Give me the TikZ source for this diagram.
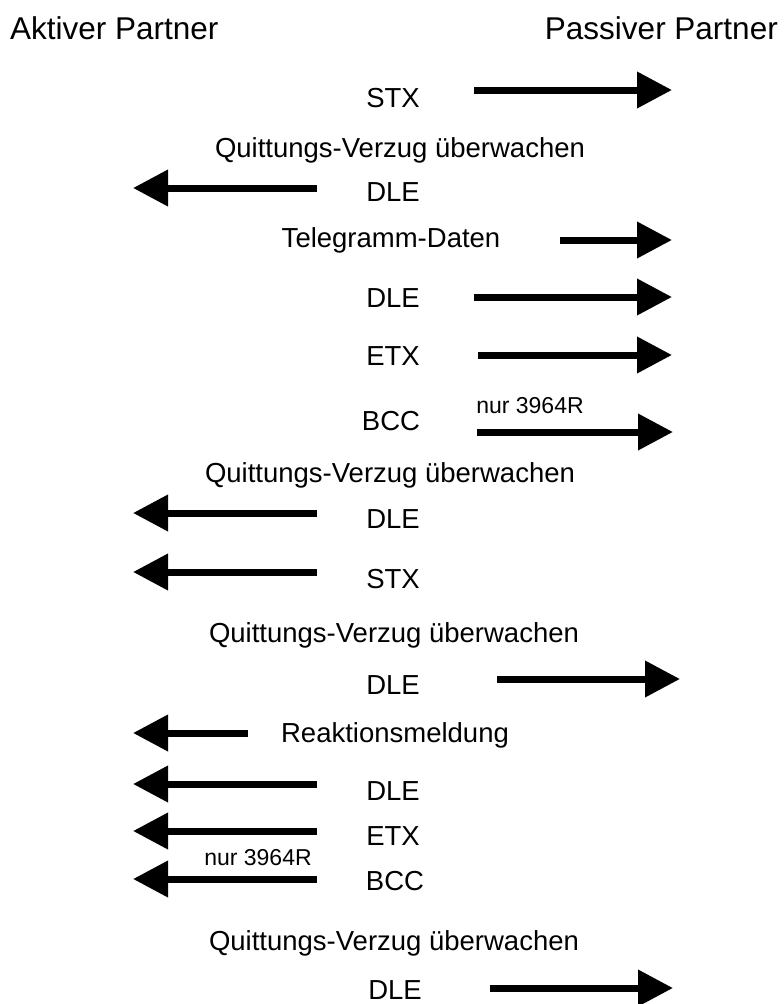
\documentclass[tikz,border=0pt]{standalone}
\usepackage{fontspec}
\setmainfont{Liberation Sans}
\usetikzlibrary{arrows.meta}
\begin{document}
\begin{tikzpicture}[x=1pt,y=-1pt,
  lbl/.style={inner sep=0pt, anchor=base, font=\fontsize{27.5}{33}\selectfont},
  hdrl/.style={inner sep=0pt, anchor=base west, font=\fontsize{31.5}{38}\selectfont},
  hdrr/.style={inner sep=0pt, anchor=base east, font=\fontsize{31.5}{38}\selectfont},
  note/.style={inner sep=0pt, anchor=base, font=\fontsize{23}{27}\selectfont},
  msg/.style={line width=7pt, -{Triangle[length=35pt,width=35pt]}}]
\useasboundingbox (0,0) rectangle (784,1004);
% headers
\node[hdrl] (akt) at (10,39) {Aktiver Partner};
\node[hdrr] (pas) at (778,39) {Passiver Partner};
% 1 STX ->
\node[lbl] (t1) at (393,107) {STX};
\coordinate (a1s) at (474,90); \coordinate (a1e) at (672,90);
\draw[msg] (a1s) -- (a1e);
% Q1
\node[lbl] (q1) at (400,157) {Quittungs-Verzug überwachen};
% DLE <-
\node[lbl] (t2) at (393,201) {DLE};
\coordinate (a2s) at (317,188); \coordinate (a2e) at (133,188);
\draw[msg] (a2s) -- (a2e);
% Telegramm-Daten ->
\node[lbl] (t3) at (391,247) {Telegramm-Daten};
\coordinate (a3s) at (560,240); \coordinate (a3e) at (672,240);
\draw[msg] (a3s) -- (a3e);
% DLE ->
\node[lbl] (t4) at (393,307) {DLE};
\coordinate (a4s) at (474,297); \coordinate (a4e) at (672,297);
\draw[msg] (a4s) -- (a4e);
% ETX ->
\node[lbl] (t5) at (393,365) {ETX};
\coordinate (a5s) at (478,355); \coordinate (a5e) at (672,355);
\draw[msg] (a5s) -- (a5e);
% BCC ->
\node[lbl] (t6) at (391,430) {BCC};
\node[note] (n1) at (530,413) {nur 3964R};
\coordinate (a6s) at (477,432); \coordinate (a6e) at (673,432);
\draw[msg] (a6s) -- (a6e);
% Q2
\node[lbl] (q2) at (390,482) {Quittungs-Verzug überwachen};
% DLE <-
\node[lbl] (t7) at (393,528) {DLE};
\coordinate (a7s) at (317,513); \coordinate (a7e) at (133,513);
\draw[msg] (a7s) -- (a7e);
% STX <-
\node[lbl] (t8) at (393,588) {STX};
\coordinate (a8s) at (317,572); \coordinate (a8e) at (133,572);
\draw[msg] (a8s) -- (a8e);
% Q3
\node[lbl] (q3) at (394,642) {Quittungs-Verzug überwachen};
% DLE ->
\node[lbl] (t9) at (393,694) {DLE};
\coordinate (a9s) at (497,679); \coordinate (a9e) at (680,679);
\draw[msg] (a9s) -- (a9e);
% Reaktionsmeldung <-
\node[lbl] (t10) at (395,742) {Reaktionsmeldung};
\coordinate (a10s) at (248,733); \coordinate (a10e) at (133,733);
\draw[msg] (a10s) -- (a10e);
% DLE <-
\node[lbl] (t11) at (393,800) {DLE};
\coordinate (a11s) at (317,784); \coordinate (a11e) at (133,784);
\draw[msg] (a11s) -- (a11e);
% ETX <-
\node[lbl] (t12) at (393,845) {ETX};
\coordinate (a12s) at (317,831); \coordinate (a12e) at (133,831);
\draw[msg] (a12s) -- (a12e);
% BCC <-
\node[note] (n2) at (258,865) {nur 3964R};
\node[lbl] (t13) at (395,890) {BCC};
\coordinate (a13s) at (317,879); \coordinate (a13e) at (133,879);
\draw[msg] (a13s) -- (a13e);
% Q4
\node[lbl] (q4) at (394,950) {Quittungs-Verzug überwachen};
% DLE ->
\node[lbl] (t14) at (395,999) {DLE};
\coordinate (a14s) at (490,988); \coordinate (a14e) at (673,988);
\draw[msg] (a14s) -- (a14e);
\end{tikzpicture}
\end{document}
